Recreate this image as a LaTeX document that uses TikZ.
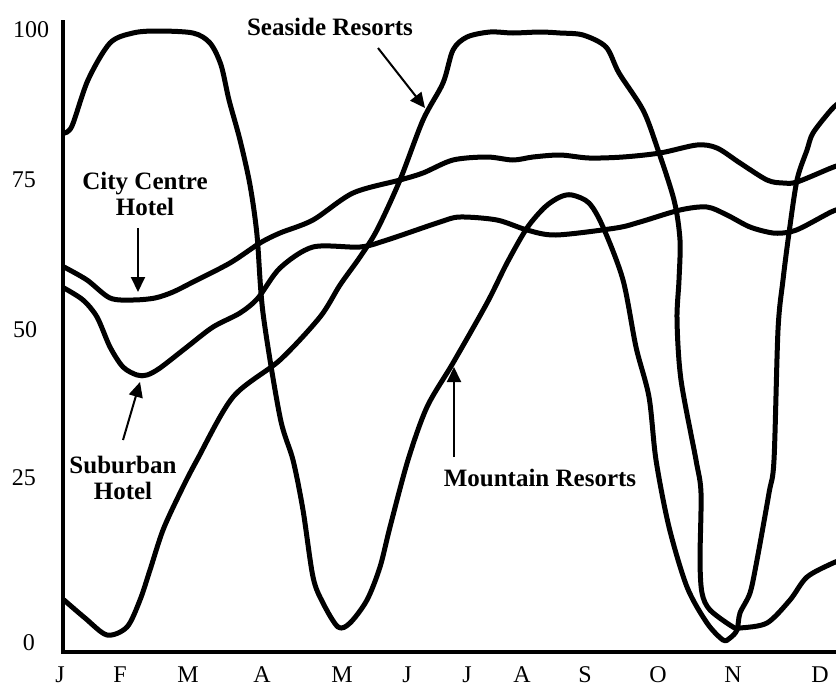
\documentclass[tikz,border=0pt]{standalone}
\usepackage{fontspec}
\setmainfont{Liberation Serif}
\usetikzlibrary{arrows.meta}
\begin{document}
\begin{tikzpicture}[x=1pt,y=-1pt,
  curve/.style={line width=5pt,line join=round,line cap=round},
  axisline/.style={line width=4pt},
  arr/.style={line width=2pt,-{Triangle[width=14pt,length=15pt]}},
  lbl/.style={font=\fontsize{25}{26}\selectfont\bfseries,align=center,inner sep=0pt},
  tick/.style={font=\fontsize{24}{24}\selectfont,inner sep=0pt}]
\useasboundingbox (0,0) rectangle (836,686);
% axes
\coordinate (ytop) at (63,20);
\coordinate (orig) at (63,652);
\coordinate (xend) at (838,652);
\draw[axisline] (ytop) -- (orig) -- (xend);
% y tick labels
\node[tick] (t100) at (31,30) {100};
\node[tick] (t75) at (24,180) {75};
\node[tick] (t50) at (25,330) {50};
\node[tick] (t25) at (24,478) {25};
\node[tick] (t0) at (29,643) {0};
% month labels
\foreach \m/\x [count=\i] in {J/60,F/120,M/188,A/262,M/342,J/407,J/467,A/522,S/585,O/658,N/733,D/820}
  \node[tick,anchor=base] (m\i) at (\x,682) {\m};
% Mountain resorts
\draw[curve] plot[smooth,tension=0.5] coordinates {
(64,133) (72,126) (88,80) (110,43) (133,33) (157,31) (193,33) (210,43) (221,65) (229,100) (240,140) (250,185) (257,235) (263,313) (280,417) (293,460) (303,510) (313,577) (323,603) (338,627) (350,623) (367,600) (380,567) (390,527) (408,460) (427,407) (453,363) (487,303) (507,263) (527,228) (545,207) (560,197) (572,195) (589,203) (603,227) (623,280) (636,347) (649,397) (656,460) (669,527) (687,587) (707,623) (723,640) (730,638) (737,630) (740,613) (750,593) (757,560) (769,493) (774,460) (778,330) (783,280) (789,233) (797,180) (807,150) (813,133) (831,110) (840,102)};
% Seaside resorts
\draw[curve] plot[smooth,tension=0.5] coordinates {
(64,600) (85,618) (107,635) (127,627) (140,600) (150,570) (163,530) (180,493) (197,460) (233,397) (280,360) (320,317) (340,285) (360,257) (377,230) (400,180) (423,120) (443,83) (453,50) (467,37) (490,32) (513,33) (540,32) (560,33) (583,35) (606,47) (619,73) (643,110) (657,147) (674,200) (680,240) (679,280) (677,320) (681,380) (696,460) (701,493) (700,560) (702,593) (710,610) (733,627) (740,628) (767,623) (790,600) (807,577) (833,563) (840,561)};
% City centre hotel
\draw[curve] plot[smooth,tension=0.5] coordinates {
(64,267) (87,280) (110,298) (133,300) (155,298) (173,292) (193,282) (230,263) (260,243) (280,233) (313,220) (353,193) (400,180) (423,173) (453,160) (487,157) (513,160) (533,157) (560,155) (589,158) (623,157) (660,153) (697,145) (717,148) (740,163) (767,180) (783,183) (797,182) (831,168) (840,165)};
% Suburban hotel
\draw[curve] plot[smooth,tension=0.5] coordinates {
(64,288) (83,300) (97,317) (110,347) (123,367) (137,375) (147,375) (160,368) (187,347) (213,327) (240,313) (258,298) (280,268) (313,247) (360,247) (387,240) (440,222) (460,217) (497,220) (527,230) (556,235) (616,228) (640,222) (680,210) (707,207) (727,215) (750,227) (773,233) (790,232) (803,227) (831,212) (840,209)};
% labels
\node[lbl] (sea) at (330,27) {Seaside Resorts};
\node[lbl] (city) at (145,194) {City Centre\\Hotel};
\node[lbl] (sub) at (123,478) {Suburban\\Hotel};
\node[lbl] (mtn) at (540,478) {Mountain Resorts};
% arrows
\coordinate (seaA) at (378,48);
\coordinate (seaB) at (425,108);
\coordinate (cityA) at (138,228);
\coordinate (cityB) at (138,292);
\coordinate (subA) at (123,440);
\coordinate (subB) at (140,382);
\coordinate (mtnA) at (454,457);
\coordinate (mtnB) at (454,367);
\draw[arr] (seaA) -- (seaB);
\draw[arr] (cityA) -- (cityB);
\draw[arr] (subA) -- (subB);
\draw[arr] (mtnA) -- (mtnB);
\end{tikzpicture}
\end{document}
